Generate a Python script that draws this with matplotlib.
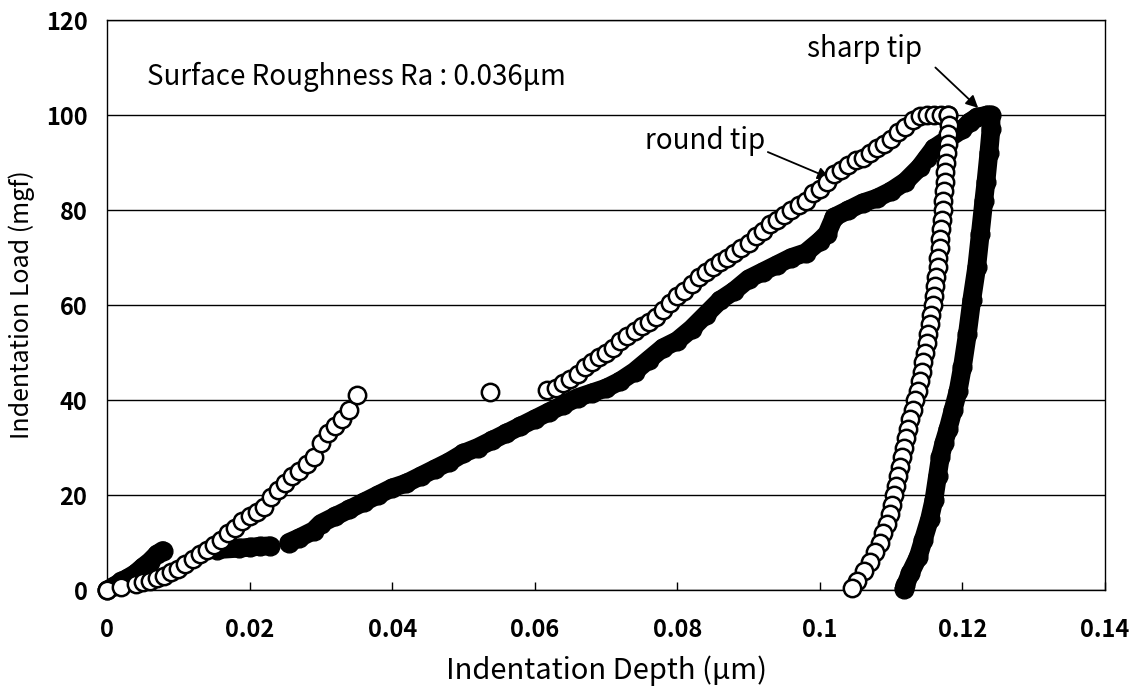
import numpy as np
import matplotlib.pyplot as plt

plt.rcParams['font.family'] = ['Noto Sans CJK JP', 'DejaVu Sans']

# round tip (open circles) - loading, first part
round_load1_x = [0.000, 0.002, 0.004, 0.005, 0.006, 0.007, 0.008, 0.009, 0.010, 0.011,
                 0.012, 0.013, 0.014, 0.015, 0.016, 0.017, 0.018, 0.019, 0.020, 0.021,
                 0.022, 0.023, 0.024, 0.025, 0.026, 0.027, 0.028, 0.029, 0.030, 0.031,
                 0.032, 0.033, 0.034, 0.035]
round_load1_y = [0, 0.6, 1.2, 1.6, 2.0, 2.5, 3.0, 3.8, 4.5, 5.5,
                 6.5, 7.5, 8.5, 9.5, 10.5, 12, 13, 14.5, 15.5, 16.5,
                 17.5, 19.5, 21, 22.5, 24, 25, 26.5, 28, 31, 33,
                 34.5, 36, 38, 41]

# isolated points in the gap
round_gap_x = [0.0537, 0.0617]
round_gap_y = [41.7, 42.2]

# round tip - loading, second part and hold
round_load2_x = [0.063, 0.064, 0.065, 0.066, 0.067, 0.068, 0.069, 0.070, 0.071, 0.072,
                 0.073, 0.074, 0.075, 0.076, 0.077, 0.078, 0.079, 0.080, 0.081, 0.082,
                 0.083, 0.084, 0.085, 0.086, 0.087, 0.088, 0.089, 0.090, 0.091, 0.092,
                 0.093, 0.094, 0.095, 0.096, 0.097, 0.098, 0.099, 0.100, 0.101, 0.102,
                 0.103, 0.104, 0.105, 0.106, 0.107, 0.108, 0.109, 0.110, 0.111, 0.112,
                 0.113, 0.114, 0.115, 0.116, 0.117, 0.118]
round_load2_y = [42.5, 43.5, 44.5, 45.5, 47, 48, 49, 50, 51, 52.5,
                 53.5, 54.5, 55.5, 56.5, 57.5, 59, 60.5, 62, 63, 64.5,
                 66, 67, 68, 69, 70, 71, 72, 73, 74.5, 75.5,
                 77, 78, 79, 80, 81, 82, 83.5, 84.5, 86, 87.5,
                 88.5, 89.5, 90.5, 91, 92, 93, 94, 95, 96.5, 97.5,
                 99, 99.8, 100, 100, 100, 100]

# round tip - unloading
round_unload_x = [0.1180, 0.1181, 0.1180, 0.1179, 0.1178, 0.1177, 0.1176, 0.1175, 0.1174, 0.1173,
                  0.1172, 0.1171, 0.1170, 0.1169, 0.1168, 0.1166, 0.1165, 0.1163, 0.1162, 0.1160,
                  0.1158, 0.1156, 0.1155, 0.1152, 0.1150, 0.1148, 0.1145, 0.1143, 0.1140, 0.1137,
                  0.1133, 0.1130, 0.1127, 0.1124, 0.1121, 0.1118, 0.1115, 0.1113, 0.1110, 0.1107,
                  0.1104, 0.1101, 0.1098, 0.1094, 0.1089, 0.1084, 0.1078, 0.1070, 0.1062, 0.1052,
                  0.1045]
round_unload_y = [100, 98, 96, 94, 92, 90, 88, 86, 84, 82,
                  80, 78, 76, 74, 72, 70, 68, 66, 64, 62,
                  60, 58, 56, 54, 52, 50, 48, 46, 44, 42,
                  40, 38, 36, 34, 32, 30, 28, 26, 24, 22,
                  20, 18, 16, 14, 12, 10, 8, 6, 4, 2,
                  0.5]

# sharp tip (filled) - loading, three pieces
sharp_a_x = [0, 0.001, 0.002, 0.003, 0.004, 0.005, 0.006, 0.007, 0.0078]
sharp_a_y = [0, 0.8, 1.8, 2.6, 3.5, 4.8, 6, 7.5, 8.3]
sharp_b_x = [0.0155, 0.0185, 0.0200, 0.0215, 0.0228]
sharp_b_y = [8.5, 8.8, 9, 9.2, 9.3]
sharp_c_x = [0.0255, 0.027, 0.029, 0.030, 0.032, 0.034, 0.036, 0.038, 0.040, 0.042,
             0.044, 0.046, 0.048, 0.050, 0.052, 0.054, 0.056, 0.058, 0.060, 0.062,
             0.064, 0.066, 0.068, 0.070, 0.072, 0.074, 0.076, 0.078, 0.080, 0.082,
             0.084, 0.086, 0.088, 0.090, 0.092, 0.094, 0.096, 0.098, 0.100, 0.101,
             0.102, 0.104, 0.106, 0.108, 0.110, 0.112, 0.114, 0.115, 0.116, 0.118,
             0.120, 0.121, 0.122, 0.1235, 0.124]
sharp_c_y = [10, 11, 12.5, 14, 15.5, 17, 18.5, 20, 21.5, 22.5,
             24, 25.5, 27, 28.8, 30, 31.5, 33, 34.5, 36, 37.5,
             39, 40.5, 41.5, 42.5, 44, 46, 48.5, 51, 52.5, 55,
             58, 61, 63, 65.5, 67, 68.5, 70, 71, 73.5, 75,
             78.5, 80, 81.5, 82.5, 84, 86, 89, 91, 93, 95,
             97, 98.5, 99.5, 100, 100]

# sharp tip - unloading
sharp_unload_x = [0.1240, 0.1237, 0.1233, 0.1230, 0.1225, 0.1220, 0.1213, 0.1207, 0.1200, 0.1194,
                  0.1187, 0.1180, 0.1174, 0.1169, 0.1165, 0.1160, 0.1154, 0.1145, 0.1138, 0.1127,
                  0.1120, 0.1118]
sharp_unload_y = [97, 92, 86, 82, 75, 68, 61, 54, 47, 42,
                  38, 34, 31, 28, 24, 19, 15, 10.5, 7, 3.6,
                  1, 0.3]

fig = plt.figure(figsize=(11.43, 6.97), dpi=100)
ax = fig.add_axes([0.0936, 0.1535, 0.8732, 0.8178])

ms_fill = 13.5
ms_open = 12.5
# filled series: thick line + markers to look like the dense marker chain
for xs, ys in [(sharp_a_x, sharp_a_y), (sharp_b_x, sharp_b_y),
               (sharp_c_x + sharp_unload_x, sharp_c_y + sharp_unload_y)]:
    ax.plot(xs, ys, color='black', lw=ms_fill, solid_capstyle='round', solid_joinstyle='round',
            marker='o', ms=ms_fill, mfc='black', mec='black', zorder=3, clip_on=False)

for xs, ys in [(round_load1_x, round_load1_y), (round_gap_x, round_gap_y),
               (round_load2_x, round_load2_y), (round_unload_x, round_unload_y)]:
    ax.plot(xs, ys, ls='none', marker='o', ms=ms_open, mfc='white', mec='black', mew=1.8,
            zorder=4, clip_on=False)

ax.set_xlim(0, 0.14)
ax.set_ylim(0, 120)
ax.set_xticks([0, 0.02, 0.04, 0.06, 0.08, 0.1, 0.12, 0.14])
ax.set_xticklabels(['0', '0.02', '0.04', '0.06', '0.08', '0.1', '0.12', '0.14'])
ax.set_yticks([0, 20, 40, 60, 80, 100, 120])
ax.yaxis.grid(True, color='black', lw=1.0)
ax.set_axisbelow(True)
ax.tick_params(axis='x', direction='in', length=6, width=1, pad=20)
ax.tick_params(axis='y', length=0, pad=14)
for lab in ax.get_xticklabels() + ax.get_yticklabels():
    lab.set_fontsize(17)
    lab.set_fontweight('bold')
for s in ax.spines.values():
    s.set_linewidth(1.0)

ax.set_xlabel('Indentation Depth (μm)', fontsize=21, labelpad=10)
ax.set_ylabel('Indentation Load (mgf)', fontsize=18, labelpad=8)

ax.text(0.0056, 108, 'Surface Roughness Ra : 0.036μm', fontsize=20, va='center')
ax.text(0.1063, 114, 'sharp tip', fontsize=20, ha='center', va='center')
ax.text(0.0839, 94.5, 'round tip', fontsize=20, ha='center', va='center')
ax.annotate('', xy=(0.1222, 101.5), xytext=(0.1162, 110),
            arrowprops=dict(arrowstyle='-|>', color='black', lw=1.3, shrinkA=0, shrinkB=0,
                            mutation_scale=18))
ax.annotate('', xy=(0.1014, 86.7), xytext=(0.0927, 92.2),
            arrowprops=dict(arrowstyle='-|>', color='black', lw=1.3, shrinkA=0, shrinkB=0,
                            mutation_scale=18))

fig.savefig('out.png', dpi=100)
